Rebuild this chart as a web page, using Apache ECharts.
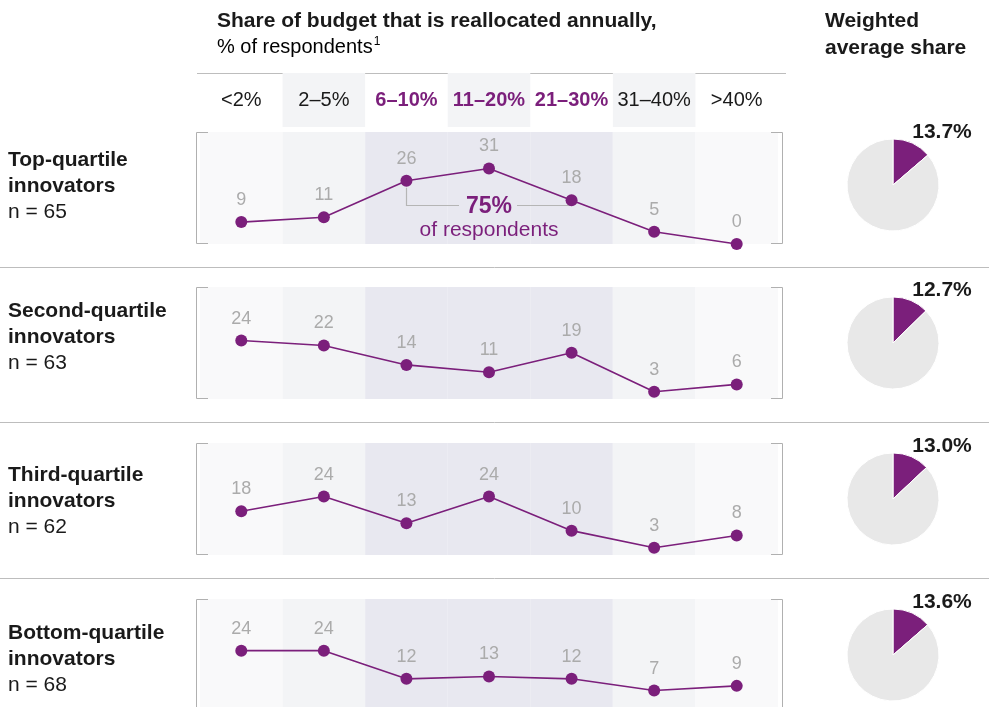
<!DOCTYPE html>
<html>
<head>
<meta charset="utf-8">
<script src="https://cdn.jsdelivr.net/npm/echarts@6/dist/echarts.min.js"></script>
<style>
html,body{margin:0;padding:0;background:#fff;}
#main{width:989px;height:707px;}
</style>
</head>
<body>
<div id="main"></div>
<script>
// ---------------- DATA ----------------
const categories = ['<2%', '2–5%', '6–10%', '11–20%', '21–30%', '31–40%', '>40%'];
const highlighted = ['6–10%', '11–20%', '21–30%'];
const groupNames = ['Top-quartile', 'Second-quartile', 'Third-quartile', 'Bottom-quartile'];
const groupSubtitle = 'innovators';
const groupN = [65, 63, 62, 68];
const topQuartile = [9, 11, 26, 31, 18, 5, 0];
const secondQuartile = [24, 22, 14, 11, 19, 3, 6];
const thirdQuartile = [18, 24, 13, 24, 10, 3, 8];
const bottomQuartile = [24, 24, 12, 13, 12, 7, 9];
const weightedShare = [13.7, 12.7, 13.0, 13.6];
const titleMain = 'Share of budget that is reallocated annually,';
const titleSub = '% of respondents';
const titleSup = '1';
const pieTitle = ['Weighted', 'average share'];
const annotationValue = '75%';
const annotationText = 'of respondents';

// ---------------- LAYOUT / STYLE ----------------
const FONT = '"Liberation Sans", Arial, Helvetica, sans-serif';
const PURPLE = '#7b1f7b';
const DARK = '#1a1a1a';
const LABEL_GRAY = '#ababab';
const LINE_GRAY = '#bdbdbd';
const BRACKET_GRAY = '#b0b0b0';
const panelTops = [132, 287, 443, 599];
const panelH = 112;
const gridLeft = 200, gridRight = 211;
const yMax = 46;
const pieX = 893, pieR = 46;
const pieOffsets = [53, 56, 56, 56];
const leftLabelOffsets = [27, 23, 31, 33];
const seriesData = [topQuartile, secondQuartile, thirdQuartile, bottomQuartile];

const bgColors = categories.map((c, j) =>
  highlighted.includes(c) ? '#e8e8f0' : (j % 2 === 1 ? '#f3f4f6' : '#f9f9fa'));
const headerColors = categories.map((c, j) => (j % 2 === 1 ? '#f3f4f6' : 'rgba(255,255,255,0)'));

const chart = echarts.init(document.getElementById('main'), null, {renderer: 'canvas'});

const grids = panelTops.map(t => ({left: gridLeft, right: gridRight, top: t, height: panelH}));
grids.push({left: gridLeft, right: gridRight, top: 73, height: 54});

const xAxes = grids.map((g, i) => ({type: 'category', data: categories, gridIndex: i, show: false, boundaryGap: true}));
const yAxes = grids.map((g, i) => ({type: 'value', gridIndex: i, min: 0, max: i < 4 ? yMax : 1, show: false}));

const series = [];
seriesData.forEach((d, i) => {
  series.push({
    type: 'bar', xAxisIndex: i, yAxisIndex: i, silent: true, animation: false,
    barWidth: '100%', z: 1,
    data: categories.map((c, j) => ({value: yMax, itemStyle: {color: bgColors[j]}}))
  });
  series.push({
    type: 'line', xAxisIndex: i, yAxisIndex: i, data: d, z: 3, animation: false,
    symbol: 'circle', symbolSize: 12,
    lineStyle: {color: PURPLE, width: 1.6},
    itemStyle: {color: PURPLE},
    label: {show: true, position: 'top', distance: 7, color: LABEL_GRAY, fontSize: 18, fontFamily: FONT}
  });
});
// header bands + category labels
series.push({
  type: 'bar', xAxisIndex: 4, yAxisIndex: 4, silent: true, animation: false, barWidth: '100%',
  data: categories.map((c, j) => ({
    value: 1,
    itemStyle: {color: headerColors[j]},
    label: highlighted.includes(c)
      ? {color: PURPLE, fontWeight: 'bold'}
      : {color: DARK, fontWeight: 'normal'}
  })),
  label: {show: true, position: 'inside', formatter: '{b}', fontSize: 20, fontFamily: FONT}
});
// pies
weightedShare.forEach((v, i) => {
  series.push({
    type: 'pie', center: [pieX, panelTops[i] + pieOffsets[i]], radius: pieR, startAngle: 90, clockwise: true,
    silent: true, animation: false, label: {show: false}, labelLine: {show: false},
    itemStyle: {borderColor: '#ffffff', borderWidth: 1},
    data: [
      {value: v, itemStyle: {color: PURPLE}},
      {value: 100 - v, itemStyle: {color: '#e8e8e8'}}
    ]
  });
});

// static graphics (texts, rules, brackets)
const graphics = [];
graphics.push({type: 'text', left: 217, top: 11, style: {text: titleMain, font: 'bold 21px ' + FONT, fill: DARK}});
graphics.push({type: 'text', left: 217, top: 36, style: {
  text: '{a|' + titleSub + '}{s|' + titleSup + '}',
  rich: {
    a: {fontSize: 20, fontFamily: FONT, color: DARK},
    s: {fontSize: 12, fontFamily: FONT, color: DARK, verticalAlign: 'top', padding: [0, 0, 10, 1]}
  }
}});
graphics.push({type: 'text', left: 825, top: 11, style: {text: pieTitle[0], font: 'bold 21px ' + FONT, fill: DARK}});
graphics.push({type: 'text', left: 825, top: 38, style: {text: pieTitle[1], font: 'bold 21px ' + FONT, fill: DARK}});
graphics.push({type: 'line', shape: {x1: 197, y1: 73.5, x2: 786, y2: 73.5}, style: {stroke: LINE_GRAY, lineWidth: 1}});

panelTops.forEach((t, i) => {
  const o = leftLabelOffsets[i];
  graphics.push({type: 'text', x: 8, y: t + o + 1, style: {text: groupNames[i], font: 'bold 21px ' + FONT, fill: DARK, verticalAlign: 'middle'}});
  graphics.push({type: 'text', x: 8, y: t + o + 27, style: {text: groupSubtitle, font: 'bold 21px ' + FONT, fill: DARK, verticalAlign: 'middle'}});
  graphics.push({type: 'text', x: 8, y: t + o + 53, style: {text: 'n = ' + groupN[i], font: '21px ' + FONT, fill: DARK, verticalAlign: 'middle'}});
  // brackets
  const b = t + panelH;
  graphics.push({type: 'polyline', shape: {points: [[208, t + 0.5], [196.5, t + 0.5], [196.5, b - 0.5], [208, b - 0.5]]}, style: {stroke: BRACKET_GRAY, lineWidth: 1, fill: null}, z: 10});
  graphics.push({type: 'polyline', shape: {points: [[771, t + 0.5], [782.5, t + 0.5], [782.5, b - 0.5], [771, b - 0.5]]}, style: {stroke: BRACKET_GRAY, lineWidth: 1, fill: null}, z: 10});
  // separator
  if (i < 3) {
    const sy = Math.round(t + panelH + 23) + 0.5;
    graphics.push({type: 'line', shape: {x1: 0, y1: sy, x2: 989, y2: sy}, style: {stroke: LINE_GRAY, lineWidth: 1}});
  }
  // pie value
  graphics.push({type: 'text', x: pieX + 49, y: t + pieOffsets[i] - 53, style: {text: weightedShare[i].toFixed(1) + '%', font: 'bold 21px ' + FONT, fill: DARK, align: 'center', verticalAlign: 'middle'}});
});

chart.setOption({
  animation: false,
  grid: grids, xAxis: xAxes, yAxis: yAxes, series: series, graphic: graphics
});

// annotation built from library-converted coordinates
const pA = chart.convertToPixel({gridIndex: 0}, [highlighted[0], topQuartile[categories.indexOf(highlighted[0])]]);
const pB = chart.convertToPixel({gridIndex: 0}, [highlighted[2], topQuartile[categories.indexOf(highlighted[2])]]);
const pM = chart.convertToPixel({gridIndex: 0}, [highlighted[1], 0]);
const ay = Math.round(pB[1] + 5) + 0.5;
const ax = Math.round(pA[0]) + 0.5;
graphics.push({type: 'polyline', shape: {points: [[ax, pA[1] + 7], [ax, ay], [pM[0] - 30, ay]]}, style: {stroke: '#b5b5b5', lineWidth: 1.2, fill: null}, z: 2});
graphics.push({type: 'line', shape: {x1: pM[0] + 28, y1: ay, x2: pB[0], y2: ay}, style: {stroke: '#b5b5b5', lineWidth: 1.2}, z: 2});
graphics.push({type: 'text', x: pM[0], y: ay + 1, style: {text: annotationValue, font: 'bold 23px ' + FONT, fill: PURPLE, align: 'center', verticalAlign: 'middle'}, z: 5});
graphics.push({type: 'text', x: pM[0], y: ay + 25, style: {text: annotationText, font: '21px ' + FONT, fill: PURPLE, align: 'center', verticalAlign: 'middle'}, z: 5});
chart.setOption({graphic: graphics});
</script>
</body>
</html>
